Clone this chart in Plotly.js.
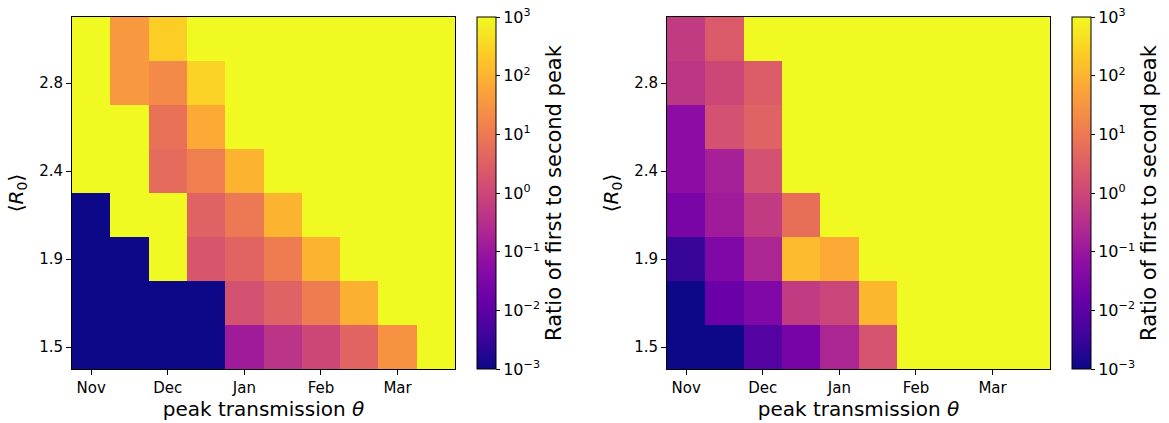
<!DOCTYPE html>
<html>
<head>
<meta charset="utf-8">
<script src="https://cdn.plot.ly/plotly-3.0.1.min.js"></script>
<style>html,body{margin:0;padding:0;background:#fff;}#chart{width:1169px;height:423px;}</style>
</head>
<body>
<div id="chart"></div>
<script>
// peak transmission columns (ticks every other column)
const thetaIndex = [0,1,2,3,4,5,6,7,8,9];
const thetaTickPos = [0,2,4,6,8];
const thetaTickText = ['Nov','Dec','Jan','Feb','Mar'];
// R0 rows (bottom to top)
const r0Index = [0,1,2,3,4,5,6,7];
const r0TickPos = [0,2,4,6];
const r0TickText = ['1.5','1.9','2.4','2.8'];

// log10(ratio of first to second peak), clipped to [-3, 3]; rows bottom -> top
const logRatioLeft = [
  [-3, -3, -3, -3, -0.9, -0.4, 0.0, 0.6, 1.45, 3],
  [-3, -3, -3, -3, 0.2, 0.55, 1.05, 1.95, 3, 3],
  [-3, -3, 3, 0.3, 0.6, 1.05, 2.0, 3, 3, 3],
  [-3, 3, 3, 0.55, 1.0, 2.0, 3, 3, 3, 3],
  [3, 3, 0.75, 1.1, 2.0, 3, 3, 3, 3, 3],
  [3, 3, 0.85, 1.85, 3, 3, 3, 3, 3, 3],
  [3, 1.55, 1.3, 2.45, 3, 3, 3, 3, 3, 3],
  [3, 1.55, 2.4, 3, 3, 3, 3, 3, 3, 3]
];
const logRatioRight = [
  [-3, -3, -2.1, -1.6, -0.7, 0.25, 3, 3, 3, 3],
  [-3, -1.8, -1.45, -0.25, -0.05, 2.05, 3, 3, 3, 3],
  [-2.5, -1.45, -0.7, 2.1, 1.85, 3, 3, 3, 3, 3],
  [-1.55, -0.9, -0.25, 0.8, 3, 3, 3, 3, 3, 3],
  [-1.25, -0.8, 0.2, 3, 3, 3, 3, 3, 3, 3],
  [-1.25, 0.2, 0.55, 3, 3, 3, 3, 3, 3, 3],
  [-0.35, 0.0, 0.45, 3, 3, 3, 3, 3, 3, 3],
  [-0.25, 0.4, 3, 3, 3, 3, 3, 3, 3, 3]
];
const cbTickVals = [-3,-2,-1,0,1,2,3];
const cbTickText = ['10<sup>\u22123</sup>','10<sup>\u22122</sup>','10<sup>\u22121</sup>','10<sup>0</sup>','10<sup>1</sup>','10<sup>2</sup>','10<sup>3</sup>'];

const plasma = [
  [0.0,'#0d0887'],[0.1,'#41049d'],[0.2,'#6a00a8'],[0.3,'#8f0da4'],
  [0.4,'#b12a90'],[0.5,'#cc4778'],[0.6,'#e16462'],[0.7,'#f2844b'],
  [0.8,'#fca636'],[0.9,'#fcce25'],[1.0,'#f0f921']
];

const W = 1169, H = 423;
const font = 'DejaVu Sans, sans-serif';
const plotTop = 17, plotBot = 369;
const yDom = [1 - plotBot/H, 1 - plotTop/H];

function cb(xPx) {
  return {
    x: xPx / W, xanchor: 'left', xref: 'paper',
    y: (yDom[0]+yDom[1])/2, yanchor: 'middle',
    len: plotBot - plotTop, lenmode: 'pixels',
    thickness: 19, thicknessmode: 'pixels',
    outlinecolor: '#000', outlinewidth: 1,
    ticks: 'outside', ticklen: 4, tickcolor: '#000',
    tickvals: cbTickVals, ticktext: cbTickText,
    tickfont: {family: font, size: 16, color: '#000'},
    title: {text: 'Ratio of first to second peak', side: 'right', font: {family: font, size: 21, color: '#000'}},
    xpad: 0, ypad: 0
  };
}

const traces = [
  {type: 'heatmap', x: thetaIndex, y: r0Index, z: logRatioLeft, zmin: -3, zmax: 3,
   colorscale: plasma, xaxis: 'x', yaxis: 'y', colorbar: cb(477), hoverinfo: 'z'},
  {type: 'heatmap', x: thetaIndex, y: r0Index, z: logRatioRight, zmin: -3, zmax: 3,
   colorscale: plasma, xaxis: 'x2', yaxis: 'y2', colorbar: cb(1072), hoverinfo: 'z'}
];

function xax(dom) {
  return {
    domain: dom, range: [-0.5, 9.5], tickvals: thetaTickPos, ticktext: thetaTickText,
    ticks: 'outside', ticklen: 5, tickcolor: '#000', showline: true, linecolor: '#000', linewidth: 1,
    mirror: true, showgrid: false, zeroline: false,
    tickfont: {family: font, size: 15, color: '#000'},
    title: {text: 'peak transmission <i>\u03b8</i>', font: {family: font, size: 20, color: '#000'}, standoff: 3}
  };
}
function yax(anchor) {
  return {
    domain: yDom, range: [-0.5, 7.5], tickvals: r0TickPos, ticktext: r0TickText, anchor: anchor,
    ticks: 'outside', ticklen: 5, tickcolor: '#000', showline: true, linecolor: '#000', linewidth: 1,
    mirror: true, showgrid: false, zeroline: false,
    tickfont: {family: font, size: 15, color: '#000'},
    title: {text: '\u27e8<i>R</i><sub>0</sub>\u27e9', font: {family: font, size: 20, color: '#000'}, standoff: 10}
  };
}

const layout = {
  width: W, height: H,
  margin: {l: 0, r: 0, t: 0, b: 0},
  paper_bgcolor: '#fff', plot_bgcolor: '#fff',
  font: {family: font, color: '#000'},
  xaxis: xax([72/W, 455/W]),
  yaxis: yax('x'),
  xaxis2: Object.assign(xax([667/W, 1050/W]), {anchor: 'y2'}),
  yaxis2: yax('x2'),
  showlegend: false
};
layout.xaxis.anchor = 'y';

Plotly.newPlot('chart', traces, layout, {displayModeBar: false, staticPlot: true});
</script>
</body>
</html>
